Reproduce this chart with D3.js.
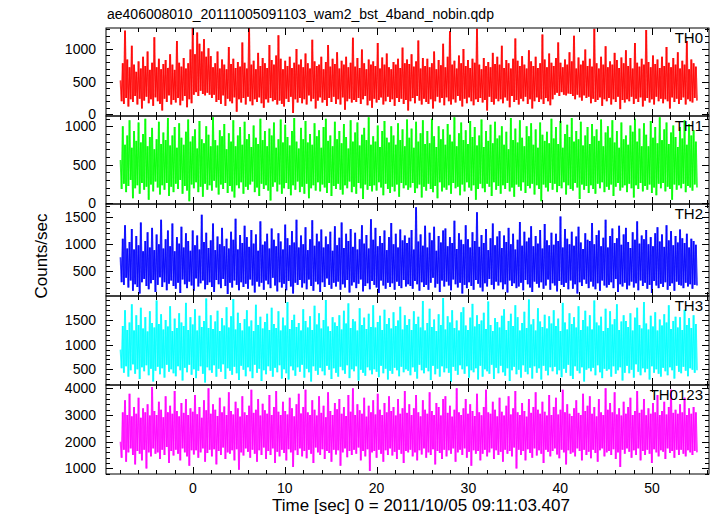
<!DOCTYPE html>
<html><head><meta charset="utf-8">
<script src="https://cdn.jsdelivr.net/npm/d3@7"></script>
<style>
html,body{margin:0;padding:0;background:#fff;}
svg{display:block;font-family:"Liberation Sans",Arial,Helvetica,sans-serif;}
</style></head>
<body><svg id="c" width="717" height="516"></svg>
<script>
// ---------------- data ----------------
const title = "ae406008010_20111005091103_wam2_bst_4band_nobin.qdp";
const xLabel = "Time [sec] 0 = 2011/10/05 09:11:03.407";
const yLabel = "Counts/sec";
const panelNames = ["TH0","TH1","TH2","TH3","TH0123"];
const timeStart = -7.9, timeEnd = 54.9;   // sec, first and last bin
const xMajorTicks = [0,10,20,30,40,50];
const yDomains = [[-25,1320],[-15,1135],[45,1740],[180,1990],[790,4125]];
const yMajorTicks = [[0,500,1000],[0,500,1000],[500,1000,1500],[500,1000,1500],[1000,2000,3000,4000]];
const yMinorSteps = [100,100,100,100,200];

const TH0 = [
520,200,780,160,1280,250,840,120,720,230,1050,190,760,280,650,150,
810,240,700,90,880,210,740,270,960,170,680,230,790,130,1180,260,
720,200,850,160,690,60,770,240,830,190,710,290,920,150,760,220,
680,180,1120,250,790,140,730,210,860,280,700,110,780,230,990,170,
1320,300,920,340,1250,280,1080,360,960,310,1150,290,880,330,1010,300,
890,250,720,300,780,190,960,220,700,160,840,290,760,130,690,240,
1030,200,770,170,850,260,710,40,800,230,730,180,1100,250,790,150,
700,270,1320,200,760,140,820,230,690,190,940,260,740,170,860,100,
780,230,710,180,1060,250,830,200,760,220,900,150,1210,210,850,160,
690,120,820,240,740,190,880,270,710,20,790,230,1000,180,760,250,
840,170,720,230,930,150,780,290,700,200,1140,240,810,90,740,210,
760,260,880,180,690,220,800,130,1060,250,730,190,850,270,770,160,
950,230,700,150,820,260,760,70,880,200,720,240,790,180,1170,220,
730,190,860,250,710,160,990,230,780,280,690,140,840,210,760,100,
810,240,740,180,1090,220,700,260,870,150,760,200,930,270,720,190,
690,230,800,130,760,250,850,190,710,240,1020,160,780,220,840,60,
770,200,920,250,730,170,810,280,1130,210,700,150,860,240,740,190,
850,160,720,230,780,90,960,200,690,270,830,180,750,250,1080,140,
720,260,880,200,1270,150,760,230,820,180,700,280,900,210,780,120,
1000,240,740,170,830,260,710,200,850,140,790,230,1310,190,760,250,
690,180,860,220,740,60,800,270,720,190,940,150,770,240,880,200,
760,230,1050,170,710,260,830,210,780,110,700,280,850,190,1160,220,
820,150,740,240,890,200,760,270,700,160,980,230,810,90,740,200,
880,260,710,190,780,230,1220,160,840,250,720,200,930,140,790,230,
740,300,860,330,1100,280,790,340,720,300,840,290,760,320,950,310,
810,280,1200,230,700,300,870,260,760,210,820,290,990,250,740,270,
850,170,730,240,1310,190,780,220,700,260,880,130,760,230,1040,200,
720,250,810,150,760,230,940,190,830,270,710,80,870,220,780,180,
980,230,740,200,860,270,700,160,1090,240,790,190,730,260,850,120,
760,210,1290,250,800,180,720,230,900,150,770,270,840,200,710,240,
880,170,740,230,1030,200,790,90,720,260,860,190,760,240,950,160,
700,220,820,260,760,150,1120,230,690,200,840,180,780,250,730,210];
const TH1 = [
560,180,1000,250,760,140,880,220,1080,300,720,60,940,190,810,230,
1050,120,790,260,900,170,1100,210,740,40,860,240,980,150,700,280,
830,200,1060,110,770,230,920,170,820,260,1110,90,750,210,880,140,
990,250,720,180,1040,300,850,120,760,220,930,160,1090,20,800,240,
870,190,960,270,710,140,1070,210,830,80,780,250,1000,170,890,230,
740,160,1120,290,820,200,750,110,950,240,870,180,1030,260,700,130,
910,220,800,150,1080,70,740,230,880,190,990,270,760,120,1060,210,
830,170,900,240,730,280,1010,140,850,200,770,90,1100,250,820,180,
940,230,740,160,970,30,880,210,1050,270,720,150,830,240,1090,120,
790,190,1020,260,860,180,750,100,940,230,1110,170,800,280,710,140,
980,210,830,120,1070,250,790,60,900,190,760,230,1040,160,870,270,
950,150,720,240,990,200,1100,130,810,260,880,90,740,220,1060,180,
830,250,940,170,780,110,1030,230,860,190,710,280,1080,140,800,210,
920,120,1050,260,750,190,890,50,980,240,820,170,1120,220,760,150,
870,230,800,160,1010,270,730,200,940,100,1070,250,850,180,790,130,
1000,210,880,150,760,240,1040,80,820,260,960,190,740,230,1090,170,
850,200,970,260,720,130,1060,190,800,240,910,70,1080,210,770,160,
940,250,780,180,1100,140,870,220,730,60,1000,270,830,150,960,200,
760,170,1030,230,890,120,800,260,1120,190,740,210,910,100,1050,240,
820,150,950,270,770,200,1070,160,860,230,990,40,750,180,880,250,
1090,190,730,140,940,250,810,210,1020,90,780,270,1060,170,840,220,
880,120,1000,230,760,180,930,260,700,150,1110,200,820,80,970,240,
790,210,1080,160,850,270,740,130,1000,220,870,190,1040,250,760,110,
960,230,720,180,1050,20,890,240,810,200,930,150,780,260,1100,170,
840,250,990,140,770,220,1070,190,720,270,900,110,1020,230,860,180,
1110,160,800,260,940,200,830,50,1060,240,750,170,880,220,990,130,
770,230,1030,180,870,120,960,250,810,190,1090,270,740,140,920,210,
1000,170,850,240,1080,90,790,210,940,260,720,160,1050,200,830,230,
880,140,760,250,1010,190,930,70,1100,230,800,180,970,260,740,150,
1040,220,890,170,740,240,1070,130,850,200,990,100,780,250,1120,190,
820,260,960,150,1050,210,770,180,920,40,1010,240,860,170,730,230,
990,190,840,250,1080,140,760,220,1030,200,880,160,950,240,800,200];
const TH2 = [
760,300,1100,250,1350,380,920,200,1040,330,1280,140,900,260,1150,210,
980,90,1400,300,870,360,1060,230,1220,170,940,280,1300,340,890,120,
1180,250,1000,390,1450,210,920,300,1090,150,1250,270,960,330,1380,230,
870,180,1130,290,1010,100,1320,350,940,260,1200,190,1060,310,880,240,
1250,140,980,370,1160,220,900,280,1540,330,1040,170,1210,250,930,300,
1070,210,1380,120,890,340,1140,260,1000,190,1300,360,960,230,1100,80,
920,290,1230,200,1080,330,1470,250,900,150,1170,300,1020,210,1340,270,
1130,180,950,350,1260,240,1010,110,1180,310,880,220,1420,290,990,160,
1050,330,1190,260,920,190,1290,380,1080,240,960,130,1200,300,1050,200,
900,270,1360,150,1110,320,980,220,1240,90,1030,290,1450,250,940,340,
1160,200,1000,280,1310,170,890,350,1090,230,1440,140,970,310,1190,260,
1050,120,1270,300,940,210,1140,370,1000,250,1230,180,880,290,1330,220,
980,310,1120,160,1400,260,930,200,1190,340,1060,110,1280,240,950,300,
1210,190,900,270,1090,350,1350,130,1010,230,1170,280,920,170,1460,320,
1080,250,1300,200,960,100,1150,330,1020,240,1250,180,890,290,1130,210,
1390,280,1000,160,1190,310,940,230,1270,190,1070,340,1160,220,1020,260,
1120,230,1260,180,900,320,1680,260,1050,140,1180,300,970,210,1340,250,
940,160,1210,290,1070,380,1320,200,880,270,1150,120,1030,330,1250,220,
1290,310,960,240,1130,150,1020,350,1430,260,910,200,1200,290,1080,90,
1000,250,1350,190,1090,300,940,230,1220,160,1060,340,1590,270,950,200,
1170,130,1020,280,1280,220,890,360,1110,250,1380,170,980,310,1140,240,
1240,300,930,170,1160,260,1040,110,1300,330,1000,230,1190,280,900,190,
1080,220,1410,290,970,150,1230,340,1050,260,1120,200,1330,120,960,310,
1150,270,1010,200,1260,300,920,180,1370,240,1070,350,980,160,1210,280,
990,240,1190,130,1060,320,1510,250,940,210,1280,290,1100,170,1000,330,
1230,180,970,260,1140,90,1320,300,1030,230,910,350,1200,270,1080,190,
1060,310,1390,220,1000,170,1170,280,1250,140,960,330,1120,240,1450,200,
940,250,1150,300,1290,190,1020,360,1110,120,1340,260,990,220,1180,290,
1300,170,1040,240,930,310,1220,200,1080,280,1420,150,1010,330,1160,230,
1090,290,1260,180,1000,250,1130,100,960,320,1200,240,1310,190,1050,270,
1180,210,950,300,1350,160,1070,230,1240,280,980,140,1150,310,1030,250,
1270,240,1110,190,1020,290,1190,220,940,260,1100,180,1060,250,990,240];
const TH3 = [
900,520,1380,430,1700,560,1300,350,1450,480,1820,600,1290,410,1600,500,
1400,300,1750,540,1330,460,1560,580,1270,380,1680,510,1440,250,1350,470,
1900,550,1420,400,1620,520,1310,330,1500,590,1370,450,1780,500,1280,420,
1530,360,1340,560,1640,480,1450,270,1380,530,1850,440,1300,590,1560,390,
1410,500,1720,320,1290,470,1590,560,1360,410,1480,230,1940,540,1340,480,
1600,430,1320,580,1470,350,1690,510,1280,450,1540,600,1390,300,1760,520,
1350,470,1580,390,1930,550,1310,420,1650,280,1440,570,1290,490,1520,360,
1700,540,1370,460,1490,320,1280,590,1810,430,1400,510,1570,260,1330,480,
1460,400,1630,560,1300,470,1750,350,1420,530,1340,440,1680,580,1290,310,
1550,500,1390,420,1870,290,1320,560,1500,480,1610,370,1360,540,1440,450,
1290,590,1720,330,1480,510,1350,440,1580,250,1300,560,1790,470,1410,390,
1640,530,1330,460,1500,380,1910,570,1370,490,1280,300,1560,520,1450,430,
1380,350,1600,550,1310,480,1690,410,1430,580,1840,320,1340,500,1520,460,
1470,560,1290,270,1740,490,1400,430,1550,370,1320,540,1630,480,1360,400,
1800,500,1350,450,1460,340,1590,570,1300,420,1710,510,1420,290,1540,470,
1330,410,1660,530,1380,480,1490,360,1770,550,1310,440,1600,500,1400,470,
1520,380,1300,540,1680,450,1420,310,1570,590,1350,480,1890,420,1290,530,
1440,460,1730,280,1360,570,1510,400,1280,510,1620,350,1400,560,1950,440,
1310,520,1580,430,1450,240,1700,550,1340,470,1490,390,1290,580,1660,500,
1760,410,1390,560,1300,330,1550,480,1830,440,1370,520,1600,290,1420,570,
1490,350,1650,500,1320,460,1880,410,1400,590,1280,300,1540,530,1460,420,
1350,570,1590,440,1720,370,1300,520,1480,260,1630,480,1380,550,1800,400,
1560,490,1290,330,1440,580,1670,450,1340,400,1920,530,1410,310,1520,560,
1290,430,1740,520,1470,290,1360,570,1610,470,1330,380,1580,540,1430,460,
1700,550,1380,400,1530,480,1280,340,1850,510,1450,430,1310,590,1640,370,
1420,300,1560,560,1350,470,1780,420,1300,540,1500,250,1690,490,1370,520,
1600,460,1310,530,1900,380,1450,580,1390,440,1570,320,1280,510,1730,470,
1340,500,1680,350,1410,560,1520,410,1820,480,1300,540,1470,270,1600,430,
1480,570,1360,420,1640,490,1290,330,1550,600,1750,450,1400,380,1330,520,
1870,440,1430,510,1310,290,1590,560,1370,430,1660,500,1290,410,1510,350,
1390,530,1620,460,1450,380,1800,540,1320,480,1480,310,1570,570,1350,450,
1560,420,1300,550,1710,470,1400,360,1540,520,1340,490,1600,430,1420,480];
const TH0123 = [
2000,1400,3100,1700,3550,1250,3000,1600,3800,1750,2950,1500,3300,1150,3050,1650,
3650,1550,2900,1300,3250,1700,3100,1000,3400,1600,2980,1450,4050,1750,3150,1550,
3000,1600,3500,1350,3200,1700,2920,1500,3700,1800,3100,1200,3350,1650,3050,1480,
3900,1700,3150,1550,2950,1300,3450,1750,3080,1600,3600,1450,3000,1100,3250,1680,
3120,1520,3750,1680,3030,1400,3300,1600,2900,1750,3550,1250,3180,1580,4000,1700,
3050,1450,3400,1720,3200,1150,2960,1650,3650,1500,3100,1780,3320,1350,3000,1600,
3850,1550,3150,1680,3020,1300,3500,1720,3250,950,2940,1600,3700,1480,3100,1750,
3000,1620,3350,1400,3950,1700,3080,1550,3200,1250,3600,1680,2980,1500,3420,1780,
3180,1350,3050,1650,3750,1500,3000,1750,3300,1200,3900,1620,3120,1450,3000,1700,
3500,1580,3150,1300,3020,1720,3650,1600,3250,1050,2950,1680,3400,1500,3800,1750,
3060,1450,3300,1650,3950,1380,3100,1700,3000,1550,3550,1200,3200,1780,2980,1600,
3700,1500,3080,1720,3350,1350,2920,1650,3850,1580,3150,1250,3000,1700,3450,1520,
3220,1680,3600,1100,3050,1600,3300,1750,2960,1420,3750,1650,3120,1500,4000,1700,
3000,1550,3400,1780,3180,1300,3050,1650,3650,1450,2940,1720,3350,900,3100,1600,
3550,1650,3020,1400,3800,1700,3200,1550,3000,1250,3450,1680,3100,1500,3700,1750,
3150,1480,3300,1620,2980,1350,3600,1700,3050,1550,3250,1200,3900,1650,3080,1600,
3400,1700,3000,1450,3250,1600,3750,1300,3100,1680,2950,1520,3550,1750,3200,1400,
3050,1600,3850,1500,3150,1720,3000,1150,3450,1650,3300,1580,2980,1350,3600,1700,
3700,1450,3080,1680,3350,1550,2940,1750,3200,1250,4000,1600,3100,1700,3000,1500,
3250,1750,3600,1400,3050,1620,3400,1100,3150,1680,2960,1550,3800,1650,3100,1300,
2990,1550,3300,1700,3950,1450,3100,1600,3050,1750,3500,1350,3200,1680,2950,1500,
3650,1620,3120,1250,2980,1700,3350,1550,3700,1650,3020,1450,3250,1780,3900,1000,
3100,1700,3000,1500,3450,1650,3150,1300,2940,1720,3600,1580,3080,1400,3300,1750,
3850,1480,3200,1680,3050,1550,3500,1200,3120,1700,2980,1620,3750,1450,3000,1650,
3300,1750,3650,1520,3020,1380,3200,1700,3950,1600,3100,1150,3400,1680,3050,1550,
2960,1600,3250,1450,3550,1750,3080,1650,3000,1300,3800,1700,3150,1500,3350,1620,
3700,1380,3050,1700,3300,1580,2950,1250,3600,1680,3100,1750,3000,1450,4000,1600,
3200,1650,3450,1500,3100,1720,3850,1350,3020,1600,3250,1050,2980,1700,3500,1550,
3050,1750,3300,1620,3650,1400,3000,1680,3150,1500,3900,1750,3080,1300,3200,1650,
3600,1500,2990,1700,3250,1550,3050,1200,3450,1720,3100,1600,3750,1450,3000,1680,
3150,1620,3500,1350,3020,1750,3300,1580,3950,1650,3080,1400,3200,1700,3050,1500,
3400,1700,3100,1550,3650,1450,3000,1680,3250,1600,3050,1500,3300,1650,3100,1600];
const seriesValues = [TH0, TH1, TH2, TH3, TH0123];

// ---------------- layout / style ----------------
const colors = ["#ff0000","#00ff00","#0000ff","#00ffff","#ff00ff"];
const left = 106, right = 709;
const panelEdges = [28,116,204,296,385,474];
const xDomain = [-9.48, 56.21];
const majorLen = 7, minorLen = 4;
const fontSize = 14, labelFont = 17;

const svg = d3.select("#c");
const x = d3.scaleLinear().domain(xDomain).range([left, right]);
const xMinor = d3.range(-8, 57, 2).filter(v => !xMajorTicks.includes(v));

svg.append("text").attr("x", 107).attr("y", 19).attr("font-size", fontSize).attr("fill","#000").text(title);

panelNames.forEach((name, p) => {
  const top = panelEdges[p], bot = panelEdges[p+1];
  const y = d3.scaleLinear().domain(yDomains[p]).range([bot, top]);
  const vals = seriesValues[p];
  const n = vals.length;
  const pts = vals.map((v, i) => [timeStart + i * (timeEnd - timeStart) / (n - 1), v]);
  const g = svg.append("g");
  const cid = "clip" + p;
  svg.append("clipPath").attr("id", cid).append("rect")
    .attr("x", left).attr("y", top).attr("width", right-left).attr("height", bot-top);
  g.append("g").attr("clip-path", `url(#${cid})`)
    .attr("stroke", colors[p]).attr("stroke-width", 1.8).attr("stroke-opacity", 0.8)
    .selectAll("line").data(d3.pairs(pts)).join("line")
    .attr("x1", d => x(d[0][0])).attr("y1", d => y(d[0][1]))
    .attr("x2", d => x(d[1][0])).attr("y2", d => y(d[1][1]));

  g.append("rect").attr("x", left).attr("y", top).attr("width", right-left).attr("height", bot-top)
    .attr("fill","none").attr("stroke","#000").attr("stroke-width",1);

  const tickG = g.append("g").attr("stroke","#000").attr("stroke-width",1);
  xMajorTicks.concat(xMinor).forEach(t => {
    const L = xMajorTicks.includes(t) ? majorLen : minorLen;
    const xx = Math.round(x(t)) + 0.5;
    tickG.append("line").attr("x1",xx).attr("x2",xx).attr("y1",bot).attr("y2",bot-L);
    tickG.append("line").attr("x1",xx).attr("x2",xx).attr("y1",top).attr("y2",top+L);
  });
  const step = yMinorSteps[p];
  const yTicks = d3.range(Math.ceil(yDomains[p][0]/step)*step, yDomains[p][1], step);
  yTicks.forEach(v => {
    const L = yMajorTicks[p].includes(v) ? majorLen : minorLen;
    const yy = Math.round(y(v)) + 0.5;
    tickG.append("line").attr("x1",left).attr("x2",left+L).attr("y1",yy).attr("y2",yy);
    tickG.append("line").attr("x1",right).attr("x2",right-L).attr("y1",yy).attr("y2",yy);
  });
  yMajorTicks[p].forEach(v => {
    g.append("text").attr("x", left-10).attr("y", y(v)).attr("dy","0.36em")
      .attr("text-anchor","end").attr("font-size",fontSize).attr("fill","#000").text(v);
  });
  g.append("text").attr("x", right-6).attr("y", top+14.5).attr("text-anchor","end")
    .attr("font-size",15).attr("fill","#000").text(name);

  if (p === panelNames.length-1) {
    xMajorTicks.forEach(t => {
      g.append("text").attr("x", x(t)).attr("y", bot+19).attr("text-anchor","middle")
        .attr("font-size",fontSize).attr("fill","#000").text(t);
    });
  }
});

svg.append("text").attr("x", 421).attr("y", 511).attr("text-anchor","middle")
  .attr("font-size",labelFont).attr("fill","#000").text(xLabel);
svg.append("text").attr("transform","translate(47,256) rotate(-90)").attr("text-anchor","middle")
  .attr("font-size",labelFont).attr("fill","#000").text(yLabel);
</script></body></html>
